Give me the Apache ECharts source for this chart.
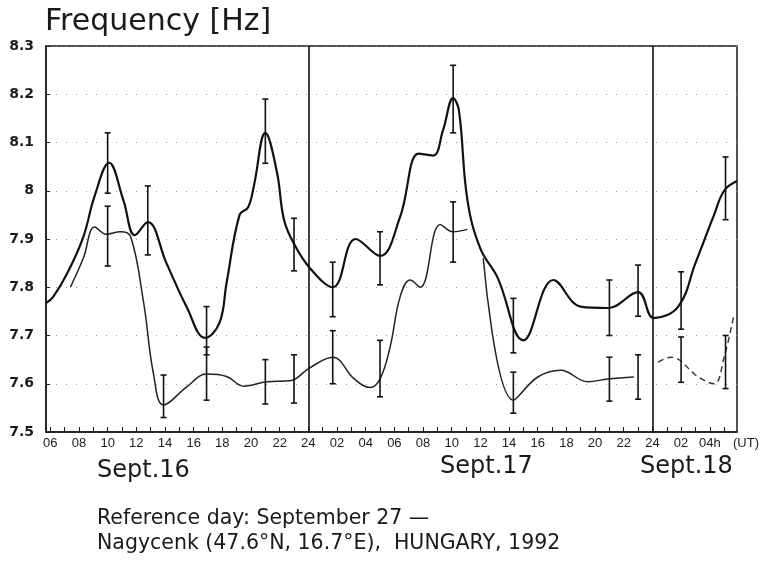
<!DOCTYPE html>
<html>
<head>
<meta charset="utf-8">
<script src="https://cdn.jsdelivr.net/npm/echarts@6/dist/echarts.min.js"></script>
<style>
  html, body { margin: 0; padding: 0; background: #fff; }
  #chart { width: 779px; height: 574px; }
</style>
</head>
<body>
<div id="chart"></div>
<script>
// hours are counted from Sept.16 00 UT (24 = Sept.17 00, 48 = Sept.18 00)
var upperHours  = [5.7, 6.2, 7.2, 8.3, 9.1, 10.1, 11.1, 11.9, 12.8, 14.1, 15.5, 16.8, 17.8, 18.3, 19.2, 19.8, 20.2, 21, 21.8, 22.3, 23, 24.1, 25.7, 27.3, 29, 30.4, 31.7, 32.7, 33.4, 34.1, 34.5, 35.1, 36, 37.2, 39, 41.1, 43, 44.9, 47, 48.1, 49.8, 51, 52.3, 53, 53.9];
var upperValues = [7.767, 7.78, 7.83, 7.904, 7.99, 8.058, 7.98, 7.908, 7.935, 7.85, 7.76, 7.695, 7.726, 7.81, 7.95, 7.966, 8.01, 8.12, 8.04, 7.94, 7.89, 7.84, 7.80, 7.90, 7.865, 7.946, 8.077, 8.073, 8.126, 8.192, 8.167, 7.98, 7.88, 7.82, 7.69, 7.815, 7.76, 7.757, 7.79, 7.736, 7.76, 7.85, 7.95, 8.0, 8.02];

var lowerHoursA  = [7.4, 8.3, 9.1, 9.9, 10.9, 11.6, 12.5, 13.2, 13.9, 15.5, 16.9, 18.3, 19.5, 21.1, 22.7, 24.1, 25.7, 27.2, 28.3, 29, 29.7, 30.4, 31.1, 31.8, 33.2, 34.1, 35.1];
var lowerValuesA = [7.80, 7.86, 7.925, 7.91, 7.915, 7.905, 7.77, 7.62, 7.556, 7.593, 7.62, 7.615, 7.595, 7.604, 7.606, 7.633, 7.655, 7.61, 7.592, 7.61, 7.676, 7.78, 7.815, 7.80, 7.93, 7.915, 7.92];
var lowerHoursB  = [36.2, 38.3, 40, 41.6, 43.5, 44.9, 46.7];
var lowerValuesB = [7.86, 7.566, 7.614, 7.628, 7.604, 7.61, 7.614];
var lowerHoursC  = [48.4, 49.3, 51.2, 52.3, 53, 53.7];
var lowerValuesC = [7.645, 7.655, 7.614, 7.60, 7.655, 7.745];

var upperErrHours = [10, 12.8, 16.9, 21, 23, 25.7, 29, 34.1, 38.3, 45, 47, 50, 53.1];
var upperErrLow   = [7.995, 7.867, 7.66, 8.057, 7.834, 7.739, 7.805, 8.12, 7.664, 7.70, 7.74, 7.713, 7.94];
var upperErrHigh  = [8.12, 8.01, 7.76, 8.19, 7.943, 7.852, 7.915, 8.26, 7.777, 7.815, 7.846, 7.832, 8.07];

var lowerErrHours = [10, 13.9, 16.9, 21, 23, 25.7, 29, 34.1, 38.3, 45, 47, 50, 53.1];
var lowerErrLow   = [7.844, 7.53, 7.566, 7.558, 7.56, 7.60, 7.573, 7.852, 7.539, 7.564, 7.568, 7.603, 7.59];
var lowerErrHigh  = [7.968, 7.618, 7.676, 7.65, 7.66, 7.71, 7.69, 7.977, 7.624, 7.655, 7.66, 7.697, 7.70];

var dayBreaks = [24, 48];
var labelHours = [6, 8, 10, 12, 14, 16, 18, 20, 22, 24, 26, 28, 30, 32, 34, 36, 38, 40, 42, 44, 46, 48, 50, 52];
var labelTexts = ['06','08','10','12','14','16','18','20','22','24','02','04','06','08','10','12','14','16','18','20','22','24','02','04h'];
var tickHours = [];
for (var t = 6; t <= 53; t++) tickHours.push(t);

var dayNames = ['Sept.16', 'Sept.17', 'Sept.18'];

function pairs(xs, ys) {
  var out = [];
  for (var i = 0; i < xs.length; i++) out.push([xs[i], ys[i]]);
  return out;
}
function bars(xs, lo, hi) {
  var out = [];
  for (var i = 0; i < xs.length; i++) out.push([xs[i], lo[i], hi[i]]);
  return out;
}

function renderBar(params, api) {
  var top = api.coord([api.value(0), api.value(2)]);
  var bot = api.coord([api.value(0), api.value(1)]);
  var w = 3;
  var st = { stroke: '#111', lineWidth: 1.6 };
  return {
    type: 'group',
    children: [
      { type: 'line', shape: { x1: top[0], y1: top[1], x2: bot[0], y2: bot[1] }, style: st },
      { type: 'line', shape: { x1: top[0] - w, y1: top[1], x2: top[0] + w, y2: top[1] }, style: st },
      { type: 'line', shape: { x1: bot[0] - w, y1: bot[1], x2: bot[0] + w, y2: bot[1] }, style: st }
    ]
  };
}

var myChart = echarts.init(document.getElementById('chart'));
var ink = '#1a1a1a';
var narrow = "'Liberation Sans Narrow', 'Liberation Sans', sans-serif";

var option = {
  backgroundColor: '#fff',
  animation: false,
  grid: { left: 46, right: 42, top: 46, bottom: 142, show: true, borderColor: ink, borderWidth: 1.5 },
  xAxis: {
    type: 'value',
    min: 5.7,
    max: 53.9,
    axisLine: { lineStyle: { color: ink, width: 1.5 } },
    axisTick: { inside: true, length: 5, customValues: tickHours, lineStyle: { color: ink } },
    axisLabel: {
      customValues: labelHours,
      margin: 5,
      fontFamily: narrow,
      fontSize: 13,
      color: ink,
      formatter: function (v) {
        var i = labelHours.indexOf(v);
        return i >= 0 ? labelTexts[i] : '';
      }
    },
    splitLine: { show: false }
  },
  yAxis: {
    type: 'value',
    min: 7.5,
    max: 8.3,
    interval: 0.1,
    axisLine: { show: true, lineStyle: { color: ink, width: 1.5 } },
    axisTick: { show: true, inside: true, length: 4, lineStyle: { color: ink } },
    axisLabel: {
      margin: 12,
      fontFamily: 'DejaVu Sans',
      fontWeight: 'bold',
      fontSize: 14,
      color: ink,
      formatter: function (v) {
        var r = Math.round(v * 10) / 10;
        return r === 8 ? '8' : r.toFixed(1);
      }
    },
    splitLine: { show: true, lineStyle: { color: '#999', width: 1, type: [1, 9] } }
  },
  graphic: [
    { type: 'text', left: 45, top: 7, style: { text: 'Frequency [Hz]', fontFamily: 'DejaVu Sans', fontSize: 30, fill: ink } },
    { type: 'text', left: 733, top: 437, style: { text: '(UT)', fontFamily: narrow, fontSize: 13, fill: ink } },
    { type: 'text', left: 97, top: 459, style: { text: dayNames[0], fontFamily: 'DejaVu Sans', fontSize: 24, fill: ink } },
    { type: 'text', left: 440, top: 455, style: { text: dayNames[1], fontFamily: 'DejaVu Sans', fontSize: 24, fill: ink } },
    { type: 'text', left: 640, top: 455, style: { text: dayNames[2], fontFamily: 'DejaVu Sans', fontSize: 24, fill: ink } },
    { type: 'text', left: 97, top: 508, style: { text: 'Reference day: September 27 \u2014', fontFamily: 'DejaVu Sans', fontSize: 20.5, fill: ink } },
    { type: 'text', left: 97, top: 533, style: { text: 'Nagycenk (47.6\u00b0N, 16.7\u00b0E),  HUNGARY, 1992', fontFamily: 'DejaVu Sans', fontSize: 20.5, fill: ink } }
  ],
  series: [
    {
      name: 'upper',
      type: 'line',
      data: pairs(upperHours, upperValues),
      smooth: 0.4,
      showSymbol: false,
      lineStyle: { color: '#111', width: 2.2 },
      markLine: {
        silent: true,
        symbol: 'none',
        label: { show: false },
        lineStyle: { color: '#111', width: 1.6, type: 'solid' },
        data: dayBreaks.map(function (h) { return { xAxis: h }; })
      },
      z: 3
    },
    {
      name: 'lowerA',
      type: 'line',
      data: pairs(lowerHoursA, lowerValuesA),
      smooth: 0.4,
      showSymbol: false,
      lineStyle: { color: '#222', width: 1.5 },
      z: 3
    },
    {
      name: 'lowerB',
      type: 'line',
      data: pairs(lowerHoursB, lowerValuesB),
      smooth: 0.4,
      showSymbol: false,
      lineStyle: { color: '#222', width: 1.5 },
      z: 3
    },
    {
      name: 'lowerC',
      type: 'line',
      data: pairs(lowerHoursC, lowerValuesC),
      smooth: 0.4,
      showSymbol: false,
      lineStyle: { color: '#333', width: 1.4, type: [6, 4] },
      z: 3
    },
    {
      name: 'upperErr',
      type: 'custom',
      renderItem: renderBar,
      encode: { x: 0, y: [1, 2] },
      data: bars(upperErrHours, upperErrLow, upperErrHigh),
      z: 4
    },
    {
      name: 'lowerErr',
      type: 'custom',
      renderItem: renderBar,
      encode: { x: 0, y: [1, 2] },
      data: bars(lowerErrHours, lowerErrLow, lowerErrHigh),
      z: 4
    }
  ]
};
myChart.setOption(option);
</script>
</body>
</html>
